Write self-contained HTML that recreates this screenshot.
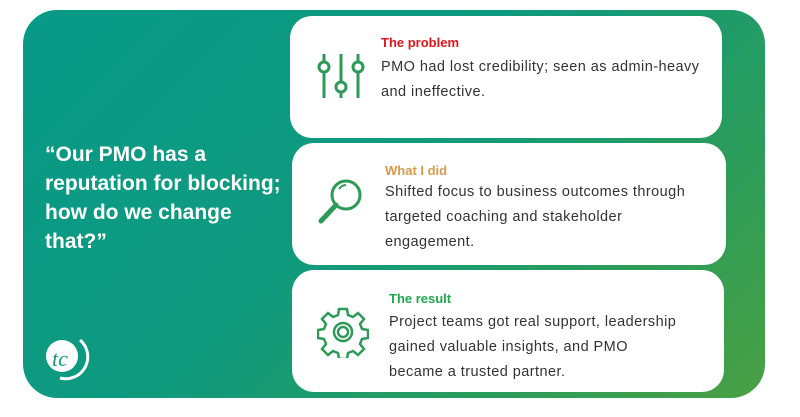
<!DOCTYPE html>
<html><head><meta charset="utf-8"><style>
*{margin:0;padding:0;box-sizing:border-box}
body{width:800px;height:417px;background:#fff;position:relative;overflow:hidden;font-family:"Liberation Sans",sans-serif}
.panel{position:absolute;left:23px;top:10px;width:742px;height:388px;border-radius:34px;background:linear-gradient(135deg,#079a88 0%,#0f9a7e 45%,#2a9c5c 75%,#4aa043 100%)}
.quote{position:absolute;left:45px;top:140px;color:#fff;font-weight:bold;font-size:21px;line-height:29px;width:250px}
.card{position:absolute;background:#fff;border-radius:22px}
.h{position:absolute;font-weight:bold;font-size:13px}
.t{position:absolute;font-size:14.5px;letter-spacing:0.45px;line-height:25px;color:#333;white-space:nowrap}
svg{position:absolute}
</style></head><body>
<div class="panel"></div>
<div class="quote">“Our PMO has a reputation for blocking; how do we change that?”</div>
<svg style="left:40px;top:330px" width="52" height="52" viewBox="0 0 52 52">
<circle cx="22" cy="26" r="16" fill="#fff"/>
<path d="M40 10 A22 22 0 0 1 20 48" stroke="#fff" stroke-width="3" fill="none"/>
<text x="12" y="36" font-family="Liberation Serif,serif" font-style="italic" font-size="22" fill="#169a7c">tc</text>
</svg>

<div class="card" style="left:290px;top:16px;width:432px;height:122px"></div>
<svg style="left:316px;top:50px" width="50" height="50" viewBox="0 0 50 50" fill="none" stroke="#2e9a58" stroke-width="3">
<line x1="8" y1="4" x2="8" y2="48"/><circle cx="8" cy="17" r="5" fill="#fff"/>
<line x1="25" y1="4" x2="25" y2="48"/><circle cx="25" cy="37" r="5" fill="#fff"/>
<line x1="42" y1="4" x2="42" y2="48"/><circle cx="42" cy="17" r="5" fill="#fff"/>
</svg>
<div class="h" style="left:381px;top:35px;color:#e0141c">The problem</div>
<div class="t" style="left:381px;top:55px"> PMO had lost credibility; seen as admin-heavy<br>and ineffective.</div>

<div class="card" style="left:292px;top:143px;width:434px;height:122px"></div>
<svg style="left:316px;top:177px" width="50" height="50" viewBox="0 0 50 50" fill="none" stroke="#2e9a58" stroke-width="3">
<circle cx="30" cy="18" r="14"/><path d="M23 12 A9 9 0 0 1 30 8" stroke-width="2"/>
<line x1="20" y1="28" x2="5" y2="44" stroke-width="5" stroke-linecap="round"/>
</svg>
<div class="h" style="left:385px;top:163px;color:#d69a4a">What I did</div>
<div class="t" style="left:385px;top:180px">Shifted focus to business outcomes through<br>targeted coaching and stakeholder<br>engagement.</div>

<div class="card" style="left:292px;top:270px;width:432px;height:122px"></div>
<svg style="left:317px;top:306px" width="52" height="52" viewBox="0 0 52 52" fill="none" stroke="#2e9a58" stroke-width="2.5">
<path d="M22 3h8l1 6 5 2 5-4 6 6-4 5 2 5 6 1v8l-6 1-2 5 4 5-6 6-5-4-5 2-1 6h-8l-1-6-5-2-5 4-6-6 4-5-2-5-6-1v-8l6-1 2-5-4-5 6-6 5 4 5-2z"/>
<circle cx="26" cy="26" r="9"/><circle cx="26" cy="26" r="5"/>
</svg>
<div class="h" style="left:389px;top:291px;color:#1ea84a">The result</div>
<div class="t" style="left:389px;top:310px">Project teams got real support, leadership<br>gained valuable insights, and PMO<br>became a trusted partner.</div>
</body></html>
